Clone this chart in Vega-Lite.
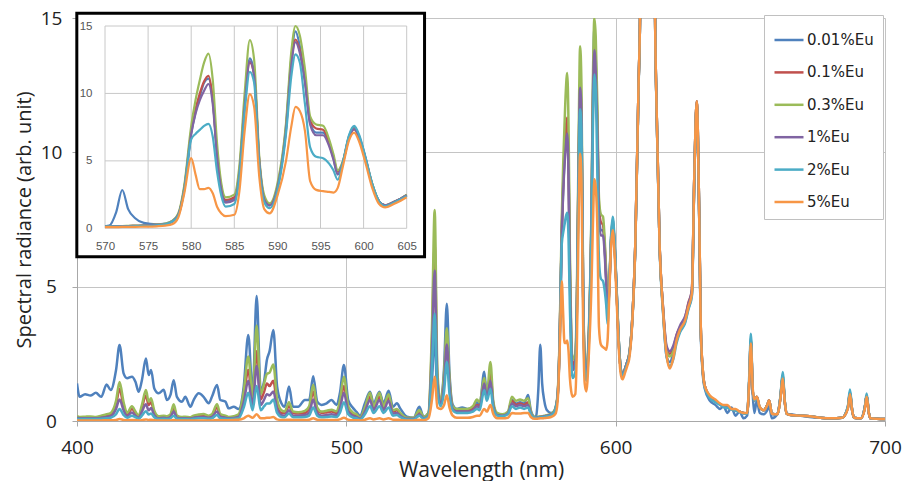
{
"$schema": "https://vega.github.io/schema/vega-lite/v6.json",
"width": 808, "height": 403,
"autosize": {"type": "none"},
"padding": {"left": 77, "top": 18, "right": 18, "bottom": 60},
"background": "white",
"config": {"view": {"stroke": null}, "font": "Open Sans"},
"datasets": {"spec": [
{"w":400,"e001":1.40,"e01":0.15,"e03":0.18,"e1":0.12,"e2":0.08,"e5":0.03},
{"w":401,"e001":0.90,"e01":0.12,"e03":0.15,"e1":0.10,"e2":0.07,"e5":0.02},
{"w":403,"e001":1.00,"e01":0.12,"e03":0.16,"e1":0.10,"e2":0.07,"e5":0.02},
{"w":405,"e001":0.95,"e01":0.13,"e03":0.17,"e1":0.10,"e2":0.07,"e5":0.02},
{"w":407,"e001":1.05,"e01":0.12,"e03":0.15,"e1":0.10,"e2":0.07,"e5":0.02},
{"w":409,"e001":0.90,"e01":0.15,"e03":0.20,"e1":0.12,"e2":0.08,"e5":0.02},
{"w":411,"e001":1.36,"e01":0.20,"e03":0.25,"e1":0.15,"e2":0.10,"e5":0.03},
{"w":412.5,"e001":1.15,"e01":0.25,"e03":0.30,"e1":0.18,"e2":0.12,"e5":0.03},
{"w":414.5,"e001":1.90,"e01":0.60,"e03":0.75,"e1":0.45,"e2":0.25,"e5":0.04},
{"w":415.8,"e001":2.83,"e01":1.20,"e03":1.45,"e1":0.80,"e2":0.45,"e5":0.07},
{"w":417.3,"e001":1.77,"e01":0.55,"e03":0.70,"e1":0.40,"e2":0.22,"e5":0.04},
{"w":418.6,"e001":1.59,"e01":0.25,"e03":0.30,"e1":0.18,"e2":0.12,"e5":0.03},
{"w":420.4,"e001":1.65,"e01":0.45,"e03":0.55,"e1":0.32,"e2":0.20,"e5":0.04},
{"w":421.7,"e001":1.46,"e01":0.30,"e03":0.35,"e1":0.20,"e2":0.14,"e5":0.03},
{"w":422.9,"e001":1.09,"e01":0.15,"e03":0.20,"e1":0.12,"e2":0.08,"e5":0.02},
{"w":424.1,"e001":1.52,"e01":0.50,"e03":0.60,"e1":0.35,"e2":0.20,"e5":0.03},
{"w":425.6,"e001":2.33,"e01":0.95,"e03":1.15,"e1":0.62,"e2":0.36,"e5":0.06},
{"w":426.6,"e001":1.71,"e01":0.60,"e03":0.72,"e1":0.40,"e2":0.24,"e5":0.04},
{"w":427.5,"e001":1.90,"e01":0.70,"e03":0.85,"e1":0.48,"e2":0.28,"e5":0.05},
{"w":428.7,"e001":1.21,"e01":0.30,"e03":0.38,"e1":0.22,"e2":0.14,"e5":0.03},
{"w":430.3,"e001":1.03,"e01":0.14,"e03":0.18,"e1":0.10,"e2":0.07,"e5":0.02},
{"w":432.2,"e001":1.16,"e01":0.15,"e03":0.20,"e1":0.12,"e2":0.08,"e5":0.02},
{"w":433.4,"e001":0.78,"e01":0.14,"e03":0.18,"e1":0.10,"e2":0.07,"e5":0.02},
{"w":434.7,"e001":0.97,"e01":0.20,"e03":0.25,"e1":0.15,"e2":0.10,"e5":0.02},
{"w":435.9,"e001":1.52,"e01":0.50,"e03":0.62,"e1":0.35,"e2":0.20,"e5":0.04},
{"w":437.1,"e001":0.90,"e01":0.15,"e03":0.20,"e1":0.12,"e2":0.08,"e5":0.02},
{"w":439,"e001":0.72,"e01":0.12,"e03":0.15,"e1":0.10,"e2":0.07,"e5":0.02},
{"w":440.2,"e001":0.90,"e01":0.13,"e03":0.16,"e1":0.10,"e2":0.07,"e5":0.02},
{"w":442.1,"e001":0.53,"e01":0.10,"e03":0.14,"e1":0.09,"e2":0.06,"e5":0.02},
{"w":443.3,"e001":0.78,"e01":0.15,"e03":0.20,"e1":0.12,"e2":0.08,"e5":0.02},
{"w":445.2,"e001":1.03,"e01":0.18,"e03":0.24,"e1":0.14,"e2":0.10,"e5":0.02},
{"w":447,"e001":0.90,"e01":0.20,"e03":0.26,"e1":0.15,"e2":0.10,"e5":0.02},
{"w":448.9,"e001":0.66,"e01":0.15,"e03":0.20,"e1":0.12,"e2":0.08,"e5":0.02},
{"w":450.1,"e001":0.90,"e01":0.20,"e03":0.25,"e1":0.15,"e2":0.10,"e5":0.02},
{"w":452,"e001":1.34,"e01":0.50,"e03":0.62,"e1":0.35,"e2":0.22,"e5":0.04},
{"w":453.2,"e001":0.78,"e01":0.20,"e03":0.26,"e1":0.15,"e2":0.10,"e5":0.03},
{"w":455.1,"e001":0.72,"e01":0.16,"e03":0.20,"e1":0.12,"e2":0.08,"e5":0.03},
{"w":456.3,"e001":0.47,"e01":0.12,"e03":0.15,"e1":0.10,"e2":0.07,"e5":0.03},
{"w":458.2,"e001":0.53,"e01":0.14,"e03":0.18,"e1":0.11,"e2":0.08,"e5":0.04},
{"w":460,"e001":0.45,"e01":0.20,"e03":0.25,"e1":0.15,"e2":0.10,"e5":0.05},
{"w":461.9,"e001":1.28,"e01":0.90,"e03":1.10,"e1":0.70,"e2":0.50,"e5":0.10},
{"w":463.6,"e001":3.20,"e01":1.90,"e03":2.40,"e1":1.50,"e2":1.05,"e5":0.20},
{"w":465.2,"e001":1.03,"e01":0.70,"e03":0.90,"e1":0.55,"e2":0.40,"e5":0.12},
{"w":466.7,"e001":4.65,"e01":2.60,"e03":3.55,"e1":2.05,"e2":1.30,"e5":0.25},
{"w":468.2,"e001":1.16,"e01":0.80,"e03":1.00,"e1":0.60,"e2":0.40,"e5":0.10},
{"w":469.5,"e001":1.50,"e01":1.10,"e03":1.40,"e1":0.80,"e2":0.55,"e5":0.10},
{"w":470.5,"e001":2.27,"e01":1.40,"e03":1.75,"e1":1.00,"e2":0.65,"e5":0.12},
{"w":471.5,"e001":2.60,"e01":1.30,"e03":1.80,"e1":0.95,"e2":0.65,"e5":0.12},
{"w":472.9,"e001":3.39,"e01":1.50,"e03":2.10,"e1":1.10,"e2":0.80,"e5":0.15},
{"w":474.3,"e001":1.28,"e01":0.60,"e03":0.80,"e1":0.45,"e2":0.30,"e5":0.06},
{"w":475.9,"e001":0.66,"e01":0.30,"e03":0.40,"e1":0.22,"e2":0.15,"e5":0.04},
{"w":477.1,"e001":0.53,"e01":0.30,"e03":0.35,"e1":0.20,"e2":0.14,"e5":0.04},
{"w":478.7,"e001":1.28,"e01":0.55,"e03":0.70,"e1":0.40,"e2":0.28,"e5":0.05},
{"w":480.2,"e001":0.53,"e01":0.30,"e03":0.35,"e1":0.20,"e2":0.14,"e5":0.04},
{"w":482.1,"e001":0.53,"e01":0.28,"e03":0.33,"e1":0.20,"e2":0.14,"e5":0.04},
{"w":484.6,"e001":0.78,"e01":0.30,"e03":0.38,"e1":0.22,"e2":0.15,"e5":0.04},
{"w":486.2,"e001":0.78,"e01":0.45,"e03":0.55,"e1":0.30,"e2":0.20,"e5":0.05},
{"w":487.7,"e001":1.67,"e01":1.10,"e03":1.35,"e1":0.80,"e2":0.50,"e5":0.10},
{"w":489.2,"e001":0.72,"e01":0.40,"e03":0.50,"e1":0.28,"e2":0.20,"e5":0.05},
{"w":490.8,"e001":0.60,"e01":0.30,"e03":0.35,"e1":0.20,"e2":0.14,"e5":0.04},
{"w":492.7,"e001":0.66,"e01":0.32,"e03":0.38,"e1":0.22,"e2":0.15,"e5":0.04},
{"w":494.5,"e001":0.78,"e01":0.35,"e03":0.42,"e1":0.25,"e2":0.17,"e5":0.04},
{"w":496.4,"e001":0.60,"e01":0.30,"e03":0.36,"e1":0.22,"e2":0.15,"e5":0.04},
{"w":497.6,"e001":1.03,"e01":0.60,"e03":0.75,"e1":0.45,"e2":0.30,"e5":0.06},
{"w":499.1,"e001":2.08,"e01":1.30,"e03":1.65,"e1":1.05,"e2":0.70,"e5":0.12},
{"w":500.7,"e001":0.78,"e01":0.45,"e03":0.55,"e1":0.35,"e2":0.25,"e5":0.05},
{"w":502.6,"e001":0.47,"e01":0.25,"e03":0.30,"e1":0.18,"e2":0.12,"e5":0.03},
{"w":503.8,"e001":0.34,"e01":0.20,"e03":0.25,"e1":0.15,"e2":0.10,"e5":0.03},
{"w":505.1,"e001":0.20,"e01":0.10,"e03":0.12,"e1":0.08,"e2":0.05,"e5":0.02},
{"w":506.9,"e001":0.66,"e01":0.45,"e03":0.50,"e1":0.35,"e2":0.25,"e5":0.05},
{"w":508.8,"e001":1.09,"e01":0.90,"e03":1.05,"e1":0.78,"e2":0.55,"e5":0.10},
{"w":510.1,"e001":0.66,"e01":0.50,"e03":0.55,"e1":0.40,"e2":0.30,"e5":0.06},
{"w":512.3,"e001":1.09,"e01":0.90,"e03":1.05,"e1":0.78,"e2":0.55,"e5":0.10},
{"w":513.8,"e001":0.66,"e01":0.50,"e03":0.55,"e1":0.40,"e2":0.30,"e5":0.06},
{"w":515.7,"e001":1.13,"e01":0.85,"e03":1.00,"e1":0.75,"e2":0.50,"e5":0.10},
{"w":517.3,"e001":0.53,"e01":0.35,"e03":0.40,"e1":0.28,"e2":0.20,"e5":0.05},
{"w":518.8,"e001":0.66,"e01":0.40,"e03":0.45,"e1":0.30,"e2":0.22,"e5":0.05},
{"w":520,"e001":0.47,"e01":0.25,"e03":0.30,"e1":0.20,"e2":0.15,"e5":0.04},
{"w":522.5,"e001":0.16,"e01":0.10,"e03":0.12,"e1":0.08,"e2":0.06,"e5":0.02},
{"w":525,"e001":0.12,"e01":0.10,"e03":0.12,"e1":0.08,"e2":0.06,"e5":0.02},
{"w":527.1,"e001":0.53,"e01":0.30,"e03":0.40,"e1":0.25,"e2":0.20,"e5":0.05},
{"w":528.7,"e001":0.16,"e01":0.12,"e03":0.15,"e1":0.10,"e2":0.08,"e5":0.03},
{"w":530.5,"e001":0.30,"e01":0.25,"e03":0.30,"e1":0.20,"e2":0.18,"e5":0.10},
{"w":531.8,"e001":1.50,"e01":3.00,"e03":3.50,"e1":2.60,"e2":2.00,"e5":0.80},
{"w":532.8,"e001":3.20,"e01":6.60,"e03":7.85,"e1":5.60,"e2":4.00,"e5":1.65},
{"w":533.8,"e001":0.90,"e01":1.60,"e03":1.90,"e1":1.40,"e2":1.10,"e5":0.50},
{"w":535,"e001":0.75,"e01":0.70,"e03":0.75,"e1":0.65,"e2":0.55,"e5":0.45},
{"w":536.3,"e001":2.00,"e01":1.60,"e03":1.80,"e1":1.40,"e2":1.10,"e5":0.60},
{"w":537.3,"e001":4.36,"e01":3.00,"e03":3.45,"e1":2.85,"e2":2.20,"e5":0.96},
{"w":538.3,"e001":1.80,"e01":1.40,"e03":1.60,"e1":1.30,"e2":1.00,"e5":0.50},
{"w":539.5,"e001":0.60,"e01":0.50,"e03":0.55,"e1":0.45,"e2":0.40,"e5":0.20},
{"w":541,"e001":0.45,"e01":0.40,"e03":0.45,"e1":0.35,"e2":0.30,"e5":0.12},
{"w":543,"e001":0.50,"e01":0.40,"e03":0.45,"e1":0.35,"e2":0.30,"e5":0.12},
{"w":545,"e001":0.45,"e01":0.40,"e03":0.45,"e1":0.35,"e2":0.30,"e5":0.12},
{"w":547,"e001":0.50,"e01":0.45,"e03":0.55,"e1":0.40,"e2":0.35,"e5":0.15},
{"w":548.5,"e001":0.70,"e01":0.60,"e03":0.80,"e1":0.55,"e2":0.45,"e5":0.20},
{"w":549.5,"e001":0.60,"e01":0.55,"e03":0.70,"e1":0.50,"e2":0.40,"e5":0.20},
{"w":551.2,"e001":1.83,"e01":1.40,"e03":1.60,"e1":1.40,"e2":1.15,"e5":0.45},
{"w":552.2,"e001":0.90,"e01":0.90,"e03":1.00,"e1":0.85,"e2":0.75,"e5":0.35},
{"w":553.5,"e001":1.60,"e01":1.75,"e03":2.20,"e1":1.50,"e2":1.20,"e5":0.60},
{"w":554.6,"e001":0.60,"e01":0.60,"e03":0.70,"e1":0.55,"e2":0.45,"e5":0.25},
{"w":556,"e001":0.25,"e01":0.25,"e03":0.30,"e1":0.22,"e2":0.20,"e5":0.10},
{"w":558,"e001":0.22,"e01":0.22,"e03":0.25,"e1":0.20,"e2":0.18,"e5":0.10},
{"w":560,"e001":0.30,"e01":0.30,"e03":0.35,"e1":0.28,"e2":0.25,"e5":0.12},
{"w":561.5,"e001":0.78,"e01":0.75,"e03":0.90,"e1":0.65,"e2":0.55,"e5":0.30},
{"w":563,"e001":0.65,"e01":0.60,"e03":0.75,"e1":0.55,"e2":0.45,"e5":0.28},
{"w":564.5,"e001":0.70,"e01":0.65,"e03":0.80,"e1":0.60,"e2":0.50,"e5":0.28},
{"w":566,"e001":0.65,"e01":0.60,"e03":0.75,"e1":0.55,"e2":0.45,"e5":0.30},
{"w":567.5,"e001":0.97,"e01":0.70,"e03":0.85,"e1":0.60,"e2":0.50,"e5":0.30},
{"w":568.5,"e001":0.40,"e01":0.30,"e03":0.35,"e1":0.28,"e2":0.25,"e5":0.15},
{"w":570,"e001":0.15,"e01":0.12,"e03":0.15,"e1":0.12,"e2":0.12,"e5":0.08},
{"w":570.5,"e001":0.20,"e01":0.13,"e03":0.15,"e1":0.13,"e2":0.12,"e5":0.08},
{"w":571.3,"e001":1.20,"e01":0.14,"e03":0.16,"e1":0.14,"e2":0.13,"e5":0.09},
{"w":572,"e001":2.84,"e01":0.15,"e03":0.17,"e1":0.15,"e2":0.13,"e5":0.10},
{"w":572.7,"e001":1.40,"e01":0.16,"e03":0.18,"e1":0.16,"e2":0.14,"e5":0.10},
{"w":573.5,"e001":0.75,"e01":0.18,"e03":0.20,"e1":0.18,"e2":0.16,"e5":0.11},
{"w":574.5,"e001":0.40,"e01":0.20,"e03":0.22,"e1":0.20,"e2":0.18,"e5":0.12},
{"w":576,"e001":0.30,"e01":0.25,"e03":0.27,"e1":0.25,"e2":0.22,"e5":0.15},
{"w":577,"e001":0.35,"e01":0.30,"e03":0.35,"e1":0.30,"e2":0.30,"e5":0.20},
{"w":577.8,"e001":0.55,"e01":0.50,"e03":0.55,"e1":0.50,"e2":0.50,"e5":0.30},
{"w":578.5,"e001":1.00,"e01":1.00,"e03":1.10,"e1":1.00,"e2":0.95,"e5":0.80},
{"w":579.2,"e001":3.00,"e01":3.00,"e03":3.20,"e1":2.90,"e2":2.80,"e5":2.60},
{"w":580,"e001":7.00,"e01":7.20,"e03":7.60,"e1":7.00,"e2":6.60,"e5":5.20},
{"w":580.5,"e001":8.60,"e01":8.80,"e03":9.50,"e1":8.50,"e2":7.00,"e5":4.00},
{"w":581,"e001":9.80,"e01":10.00,"e03":11.00,"e1":9.50,"e2":7.30,"e5":2.90},
{"w":581.5,"e001":10.80,"e01":10.90,"e03":12.30,"e1":10.20,"e2":7.60,"e5":2.90},
{"w":582,"e001":11.10,"e01":11.30,"e03":12.95,"e1":10.70,"e2":7.75,"e5":3.00},
{"w":582.5,"e001":9.50,"e01":9.60,"e03":11.00,"e1":9.20,"e2":6.80,"e5":2.60},
{"w":583,"e001":5.50,"e01":5.60,"e03":6.30,"e1":5.30,"e2":4.20,"e5":1.60},
{"w":583.5,"e001":3.00,"e01":3.00,"e03":3.30,"e1":2.80,"e2":2.40,"e5":1.10},
{"w":584,"e001":2.00,"e01":2.10,"e03":2.30,"e1":1.90,"e2":1.60,"e5":0.90},
{"w":585,"e001":2.20,"e01":2.30,"e03":2.50,"e1":2.10,"e2":1.80,"e5":1.00},
{"w":585.6,"e001":4.20,"e01":4.30,"e03":4.70,"e1":4.10,"e2":3.90,"e5":2.80},
{"w":586.2,"e001":9.20,"e01":9.30,"e03":10.00,"e1":9.00,"e2":8.60,"e5":7.20},
{"w":586.8,"e001":12.60,"e01":12.30,"e03":13.95,"e1":12.40,"e2":11.60,"e5":9.95},
{"w":587.3,"e001":11.50,"e01":11.40,"e03":12.50,"e1":11.30,"e2":10.80,"e5":9.00},
{"w":587.9,"e001":5.00,"e01":5.00,"e03":5.30,"e1":4.90,"e2":4.60,"e5":3.80},
{"w":588.5,"e001":2.20,"e01":2.20,"e03":2.40,"e1":2.10,"e2":1.90,"e5":1.40},
{"w":589.1,"e001":1.70,"e01":1.75,"e03":1.85,"e1":1.70,"e2":1.50,"e5":1.10},
{"w":590,"e001":3.00,"e01":3.10,"e03":3.30,"e1":3.00,"e2":2.80,"e5":2.40},
{"w":591,"e001":7.60,"e01":7.40,"e03":7.80,"e1":7.30,"e2":7.00,"e5":5.00},
{"w":591.6,"e001":12.50,"e01":12.20,"e03":13.00,"e1":12.00,"e2":11.20,"e5":7.50},
{"w":592.1,"e001":14.60,"e01":14.00,"e03":15.00,"e1":13.80,"e2":12.90,"e5":9.00},
{"w":592.6,"e001":13.50,"e01":13.20,"e03":14.30,"e1":13.00,"e2":12.30,"e5":8.70},
{"w":593.2,"e001":11.00,"e01":11.00,"e03":11.80,"e1":10.80,"e2":9.20,"e5":7.20},
{"w":593.8,"e001":7.80,"e01":8.00,"e03":8.30,"e1":7.70,"e2":6.00,"e5":3.50},
{"w":594.5,"e001":7.10,"e01":7.40,"e03":7.70,"e1":6.90,"e2":5.30,"e5":2.85},
{"w":595.3,"e001":7.10,"e01":7.30,"e03":7.60,"e1":6.90,"e2":5.20,"e5":2.75},
{"w":596,"e001":6.30,"e01":6.40,"e03":6.60,"e1":6.10,"e2":4.80,"e5":2.70},
{"w":596.5,"e001":5.20,"e01":5.30,"e03":5.50,"e1":5.10,"e2":4.30,"e5":2.65},
{"w":597,"e001":4.00,"e01":4.20,"e03":4.30,"e1":4.00,"e2":3.60,"e5":3.00},
{"w":597.6,"e001":4.90,"e01":4.90,"e03":5.00,"e1":4.90,"e2":4.90,"e5":4.60},
{"w":598.3,"e001":6.80,"e01":6.70,"e03":6.80,"e1":6.70,"e2":6.90,"e5":6.50},
{"w":598.9,"e001":7.50,"e01":7.35,"e03":7.40,"e1":7.35,"e2":7.60,"e5":7.10},
{"w":599.5,"e001":6.80,"e01":6.70,"e03":6.70,"e1":6.70,"e2":6.90,"e5":6.40},
{"w":600.2,"e001":5.30,"e01":5.20,"e03":5.20,"e1":5.20,"e2":5.30,"e5":4.90},
{"w":601,"e001":3.30,"e01":3.25,"e03":3.30,"e1":3.20,"e2":3.30,"e5":3.00},
{"w":601.8,"e001":2.00,"e01":2.00,"e03":2.00,"e1":2.00,"e2":2.00,"e5":1.80},
{"w":602.5,"e001":1.70,"e01":1.70,"e03":1.70,"e1":1.70,"e2":1.65,"e5":1.55},
{"w":603.5,"e001":1.95,"e01":1.95,"e03":1.95,"e1":1.95,"e2":1.90,"e5":1.80},
{"w":604.3,"e001":2.20,"e01":2.20,"e03":2.20,"e1":2.20,"e2":2.15,"e5":2.05},
{"w":605,"e001":2.45,"e01":2.45,"e03":2.50,"e1":2.45,"e2":2.40,"e5":2.30},
{"w":606,"e001":3.50,"e01":3.50,"e03":3.50,"e1":3.50,"e2":3.45,"e5":3.40},
{"w":607.3,"e001":6.60,"e01":6.60,"e03":6.60,"e1":6.60,"e2":6.50,"e5":6.60},
{"w":608.5,"e001":12.5,"e01":12.5,"e03":12.5,"e1":12.5,"e2":12.4,"e5":12.5},
{"w":609.1,"e001":15.5,"e01":15.5,"e03":15.5,"e1":15.5,"e2":15.5,"e5":15.5},
{"w":609.8,"e001":35,"e01":35,"e03":35,"e1":35,"e2":35,"e5":35},
{"w":611.5,"e001":25,"e01":25,"e03":25,"e1":25,"e2":25,"e5":25},
{"w":612.5,"e001":25,"e01":25,"e03":25,"e1":25,"e2":25,"e5":25},
{"w":613.8,"e001":40,"e01":40,"e03":40,"e1":40,"e2":40,"e5":40},
{"w":614.6,"e001":15.5,"e01":15.5,"e03":15.5,"e1":15.5,"e2":15.5,"e5":15.5},
{"w":615.2,"e001":11.6,"e01":11.6,"e03":11.6,"e1":11.6,"e2":11.5,"e5":11.6},
{"w":616.3,"e001":6.6,"e01":6.6,"e03":6.6,"e1":6.6,"e2":6.5,"e5":6.6},
{"w":617.6,"e001":4.1,"e01":4.2,"e03":4.15,"e1":4.2,"e2":4.0,"e5":4.1},
{"w":618.9,"e001":2.4,"e01":2.7,"e03":2.6,"e1":2.8,"e2":2.4,"e5":2.45},
{"w":620.1,"e001":2.2,"e01":2.5,"e03":2.4,"e1":2.6,"e2":2.05,"e5":1.95},
{"w":621.4,"e001":2.5,"e01":2.7,"e03":2.6,"e1":2.8,"e2":2.3,"e5":2.35},
{"w":622.6,"e001":3.0,"e01":3.2,"e03":3.1,"e1":3.2,"e2":2.9,"e5":3.0},
{"w":623.9,"e001":3.35,"e01":3.5,"e03":3.45,"e1":3.55,"e2":3.3,"e5":3.4},
{"w":625.8,"e001":3.7,"e01":3.85,"e03":3.8,"e1":3.9,"e2":3.65,"e5":3.75},
{"w":627,"e001":4.2,"e01":4.4,"e03":4.3,"e1":4.35,"e2":4.15,"e5":4.24},
{"w":628.3,"e001":4.7,"e01":4.85,"e03":4.8,"e1":4.9,"e2":4.65,"e5":4.74},
{"w":629.2,"e001":9.0,"e01":9.1,"e03":9.1,"e1":9.1,"e2":9.0,"e5":9.1},
{"w":630.1,"e001":11.8,"e01":11.9,"e03":11.9,"e1":11.9,"e2":11.8,"e5":11.9},
{"w":631,"e001":7.7,"e01":7.8,"e03":7.8,"e1":7.8,"e2":7.7,"e5":7.8},
{"w":631.6,"e001":3.3,"e01":3.5,"e03":3.5,"e1":3.5,"e2":3.4,"e5":3.5},
{"w":632.3,"e001":1.8,"e01":1.95,"e03":1.95,"e1":1.95,"e2":1.9,"e5":1.95},
{"w":633.1,"e001":1.2,"e01":1.3,"e03":1.3,"e1":1.3,"e2":1.25,"e5":1.3},
{"w":635,"e001":0.75,"e01":0.9,"e03":0.9,"e1":0.9,"e2":0.85,"e5":0.95},
{"w":637,"e001":0.6,"e01":0.75,"e03":0.75,"e1":0.75,"e2":0.7,"e5":0.8},
{"w":638.8,"e001":0.45,"e01":0.62,"e03":0.62,"e1":0.62,"e2":0.6,"e5":0.65},
{"w":640,"e001":0.55,"e01":0.55,"e03":0.55,"e1":0.55,"e2":0.52,"e5":0.6},
{"w":641.5,"e001":0.3,"e01":0.5,"e03":0.5,"e1":0.5,"e2":0.48,"e5":0.6},
{"w":643,"e001":0.5,"e01":0.45,"e03":0.45,"e1":0.45,"e2":0.43,"e5":0.45},
{"w":644.5,"e001":0.2,"e01":0.4,"e03":0.4,"e1":0.4,"e2":0.38,"e5":0.45},
{"w":646,"e001":0.35,"e01":0.35,"e03":0.35,"e1":0.35,"e2":0.33,"e5":0.35},
{"w":647.5,"e001":0.1,"e01":0.3,"e03":0.3,"e1":0.3,"e2":0.28,"e5":0.3},
{"w":648.8,"e001":0.2,"e01":0.28,"e03":0.28,"e1":0.28,"e2":0.27,"e5":0.3},
{"w":649.6,"e001":1.5,"e01":1.5,"e03":1.5,"e1":1.5,"e2":1.7,"e5":1.5},
{"w":650.2,"e001":3.1,"e01":3.0,"e03":3.05,"e1":3.0,"e2":3.25,"e5":2.88},
{"w":650.9,"e001":1.0,"e01":1.1,"e03":1.1,"e1":1.1,"e2":1.15,"e5":1.2},
{"w":651.5,"e001":0.3,"e01":0.75,"e03":0.75,"e1":0.75,"e2":0.75,"e5":0.8},
{"w":652.4,"e001":0.75,"e01":0.9,"e03":0.9,"e1":0.9,"e2":0.88,"e5":0.9},
{"w":653.5,"e001":0.3,"e01":0.5,"e03":0.5,"e1":0.5,"e2":0.5,"e5":0.52},
{"w":655,"e001":0.25,"e01":0.4,"e03":0.4,"e1":0.4,"e2":0.4,"e5":0.4},
{"w":656.3,"e001":0.4,"e01":0.6,"e03":0.6,"e1":0.6,"e2":0.6,"e5":0.6},
{"w":657,"e001":0.55,"e01":0.77,"e03":0.77,"e1":0.77,"e2":0.75,"e5":0.77},
{"w":658,"e001":0.1,"e01":0.27,"e03":0.27,"e1":0.27,"e2":0.27,"e5":0.27},
{"w":660,"e001":0.25,"e01":0.25,"e03":0.25,"e1":0.25,"e2":0.25,"e5":0.25},
{"w":661.2,"e001":0.9,"e01":0.9,"e03":0.9,"e1":0.9,"e2":0.95,"e5":0.85},
{"w":662,"e001":1.7,"e01":1.65,"e03":1.7,"e1":1.65,"e2":1.82,"e5":1.58},
{"w":662.8,"e001":0.7,"e01":0.7,"e03":0.7,"e1":0.7,"e2":0.75,"e5":0.7},
{"w":663.5,"e001":0.27,"e01":0.27,"e03":0.27,"e1":0.27,"e2":0.27,"e5":0.27},
{"w":665,"e001":0.25,"e01":0.22,"e03":0.22,"e1":0.22,"e2":0.22,"e5":0.22},
{"w":668,"e001":0.2,"e01":0.2,"e03":0.2,"e1":0.2,"e2":0.2,"e5":0.2},
{"w":672,"e001":0.15,"e01":0.18,"e03":0.18,"e1":0.18,"e2":0.18,"e5":0.18},
{"w":676,"e001":0.12,"e01":0.12,"e03":0.12,"e1":0.12,"e2":0.12,"e5":0.12},
{"w":680,"e001":0.1,"e01":0.1,"e03":0.1,"e1":0.1,"e2":0.1,"e5":0.1},
{"w":684,"e001":0.12,"e01":0.12,"e03":0.12,"e1":0.12,"e2":0.12,"e5":0.12},
{"w":686.2,"e001":0.5,"e01":0.5,"e03":0.5,"e1":0.5,"e2":0.55,"e5":0.45},
{"w":687,"e001":1.1,"e01":1.05,"e03":1.05,"e1":1.05,"e2":1.17,"e5":1.0},
{"w":687.8,"e001":0.4,"e01":0.4,"e03":0.4,"e1":0.4,"e2":0.42,"e5":0.4},
{"w":688.5,"e001":0.12,"e01":0.12,"e03":0.12,"e1":0.12,"e2":0.12,"e5":0.12},
{"w":691,"e001":0.1,"e01":0.1,"e03":0.1,"e1":0.1,"e2":0.1,"e5":0.1},
{"w":692.5,"e001":0.5,"e01":0.5,"e03":0.5,"e1":0.5,"e2":0.52,"e5":0.45},
{"w":693.2,"e001":0.95,"e01":0.95,"e03":0.95,"e1":0.95,"e2":1.02,"e5":0.9},
{"w":694,"e001":0.3,"e01":0.3,"e03":0.3,"e1":0.3,"e2":0.32,"e5":0.3},
{"w":694.6,"e001":0.1,"e01":0.1,"e03":0.1,"e1":0.1,"e2":0.1,"e5":0.1},
{"w":697,"e001":0.08,"e01":0.08,"e03":0.08,"e1":0.08,"e2":0.08,"e5":0.08},
{"w":700,"e001":0.07,"e01":0.07,"e03":0.07,"e1":0.07,"e2":0.07,"e5":0.07}
]},
"layer": [
{
"data": {"name": "spec"},
"transform": [{"fold": ["e001","e01","e03","e1","e2","e5"], "as": ["s","v"]}],
"mark": {"type": "line", "strokeWidth": 2.5, "clip": true, "interpolate": "monotone"},
"encoding": {
"x": {"field": "w", "type": "quantitative",
"scale": {"domain": [400,700], "nice": false, "zero": false},
"axis": {"values": [400,500,600,700], "title": "Wavelength (nm)", "grid": true, "gridColor": "#c4c4c4", "domainColor": "#a8a8a8", "tickColor": "#a8a8a8", "tickSize": 5, "labelFlush": false, "labelFontSize": 19, "labelColor": "#222", "labelPadding": 12, "titleFontSize": 21, "titleFontWeight": "normal", "titleColor": "#222", "titlePadding": 2}},
"y": {"field": "v", "type": "quantitative",
"scale": {"domain": [0,15], "nice": false},
"axis": {"values": [0,5,10,15], "title": "Spectral radiance (arb. unit)", "grid": true, "gridColor": "#c4c4c4", "domainColor": "#a8a8a8", "tickColor": "#a8a8a8", "tickSize": 5, "labelAlign": "center", "labelPadding": 21, "labelFontSize": 19, "labelColor": "#222", "titleFontSize": 20, "titleFontWeight": "normal", "titleColor": "#222", "titlePadding": 6}},
"color": {"field": "s", "type": "nominal",
"scale": {"domain": ["e001","e01","e03","e1","e2","e5"], "range": ["#4F81BD","#C0504D","#9BBB59","#8064A2","#4BACC6","#F79646"]},
"legend": {"orient": "none", "legendX": 687, "legendY": -3, "title": null, "symbolType": "stroke", "symbolSize": 841, "symbolStrokeWidth": 2.5, "labelFontSize": 15, "labelFont": "DejaVu Sans", "labelColor": "#222", "strokeColor": "#c0c0c0", "fillColor": "white", "padding": 9, "rowPadding": 8.4, "labelOffset": 2,
"labelExpr": "datum.value=='e001'?'0.01%Eu':datum.value=='e01'?'0.1%Eu':datum.value=='e03'?'0.3%Eu':datum.value=='e1'?'1%Eu':datum.value=='e2'?'2%Eu':'5%Eu'"}}
}
},
{
"layer": [
{"data": {"values": [{"x1": 566.73, "x2": 607.07, "y1": -2.11, "y2": 15.95}]},
"mark": {"type": "rect", "fill": "white", "stroke": "black", "strokeWidth": 3},
"encoding": {
"x": {"field": "x1", "type": "quantitative", "scale": {"domain": [570,605], "range": [28,329.7], "nice": false, "zero": false},
"axis": {"orient": "bottom", "offset": -192.7, "values": [570,575,580,585,590,595,600,605], "grid": false, "domain": false, "ticks": false, "labelFlush": false, "labelFontSize": 11.5, "labelFont": "Liberation Sans", "labelColor": "#555", "labelPadding": 12, "title": null, "zindex": 2}},
"x2": {"field": "x2"},
"y": {"field": "y1", "type": "quantitative", "scale": {"domain": [0,15], "range": [210.3,8], "nice": false, "zero": false},
"axis": {"orient": "left", "offset": -28, "values": [0,5,10,15], "grid": false, "domain": false, "ticks": false, "labelFontSize": 11.5, "labelFont": "Liberation Sans", "labelColor": "#555", "labelPadding": 13, "title": null, "zindex": 2}},
"y2": {"field": "y2"}}},
{"data": {"values": [{"g":570,"a":0,"b":15},{"g":575,"a":0,"b":15},{"g":580,"a":0,"b":15},{"g":585,"a":0,"b":15},{"g":590,"a":0,"b":15},{"g":595,"a":0,"b":15},{"g":600,"a":0,"b":15},{"g":605,"a":0,"b":15}]},
"mark": {"type": "rule", "color": "#c8c8c8", "strokeWidth": 1},
"encoding": {"x": {"field": "g", "type": "quantitative"}, "y": {"field": "a", "type": "quantitative"}, "y2": {"field": "b"}}},
{"data": {"values": [{"h":0,"a":570,"b":605},{"h":5,"a":570,"b":605},{"h":10,"a":570,"b":605},{"h":15,"a":570,"b":605}]},
"mark": {"type": "rule", "color": "#c8c8c8", "strokeWidth": 1},
"encoding": {"y": {"field": "h", "type": "quantitative"}, "x": {"field": "a", "type": "quantitative"}, "x2": {"field": "b"}}},
{"data": {"name": "spec"},
"transform": [{"filter": {"field": "w", "range": [570,605]}}, {"fold": ["e001","e01","e03","e1","e2","e5"], "as": ["s","v"]}],
"mark": {"type": "line", "strokeWidth": 2.2, "interpolate": "monotone"},
"encoding": {
"x": {"field": "w", "type": "quantitative"},
"y": {"field": "v", "type": "quantitative"},
"color": {"field": "s", "type": "nominal"}}}
]
}
],
"resolve": {"scale": {"x": "independent", "y": "independent"}, "axis": {"x": "independent", "y": "independent"}}
}
